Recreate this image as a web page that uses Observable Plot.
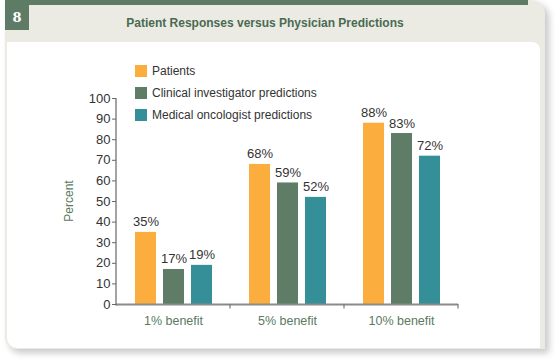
<!DOCTYPE html>
<html>
<head>
<meta charset="utf-8">
<script src="https://cdn.jsdelivr.net/npm/d3@7"></script>
<script src="https://cdn.jsdelivr.net/npm/@observablehq/plot@0.6"></script>
<style>
  html, body { margin: 0; padding: 0; background: #ffffff; }
  #wrap { position: relative; width: 560px; height: 362px; overflow: hidden; font-family: "Liberation Sans", Arial, sans-serif; }
  #card { position: absolute; left: 5px; top: 0; width: 540px; height: 349px; background: #ebebe3; border-radius: 0 14px 0 12px; box-shadow: 4px 4px 7px rgba(0,0,0,0.22); }
  #topbar { position: absolute; left: 5px; top: 0; width: 523px; height: 5px; background: #5e7b65; }
  #badge { position: absolute; left: 5px; top: 5px; width: 24px; height: 25px; background: #5e7b65; color: #fff; font: bold 13px "DejaVu Serif", "Liberation Serif", serif; text-align: center; line-height: 25px; }
  #title { position: absolute; left: 29px; width: 472px; top: 16px; text-align: center; font-weight: bold; font-size: 12px; color: #4a6a52; }
  #panel { position: absolute; left: 7px; top: 42px; width: 533px; height: 306px; background: #ffffff; border-radius: 0 8px 0 10px; }
  #chart { position: absolute; left: 0; top: 0; }
  #legend { position: absolute; left: 135px; top: 64px; font-size: 12px; color: #333; }
  .li { height: 22px; display: flex; align-items: flex-start; }
  .sw { width: 12px; height: 12px; margin-right: 5px; margin-top: 1px; }
  .lt { line-height: 14px; }
  #ylabel { position: absolute; left: 68.5px; top: 201px; transform: translate(-50%, -50%) rotate(-90deg); font-size: 12px; color: #5a7a62; white-space: nowrap; }
</style>
</head>
<body>
<div id="wrap">
  <div id="card"></div>
  <div id="topbar"></div>
  <div id="badge">8</div>
  <div id="title">Patient Responses versus Physician Predictions</div>
  <div id="panel"></div>
  <div id="chart"></div>
  <div id="ylabel">Percent</div>
  <div id="legend"></div>
</div>
<script>
const categories = ["1% benefit", "5% benefit", "10% benefit"];
const series = ["Patients", "Clinical investigator predictions", "Medical oncologist predictions"];
const patients = [35, 68, 88];
const clinical = [17, 59, 83];
const medical = [19, 52, 72];
const yTicks = [0, 10, 20, 30, 40, 50, 60, 70, 80, 90, 100];
const colors = ["#fbae3e", "#5f7c66", "#358f98"];

const seriesValues = [patients, clinical, medical];
const data = categories.flatMap((c, i) =>
  series.map((s, j) => ({category: c, series: s, value: seriesValues[j][i]}))
);

const chart = Plot.plot({
  width: 560,
  height: 362,
  marginLeft: 116,
  marginRight: 102,
  marginTop: 98,
  marginBottom: 58,
  style: {background: "transparent", fontFamily: "'Liberation Sans', Arial, sans-serif", overflow: "visible"},
  fx: {domain: categories, padding: 0, label: null, axis: null},
  x: {domain: series, paddingInner: 0.26, paddingOuter: 0.64, axis: null},
  y: {domain: [0, 100], axis: null},
  color: {domain: series, range: colors},
  marks: [
    Plot.barY(data, {fx: "category", x: "series", y: "value", fill: "series"}),
    Plot.text(data, {fx: "category", x: "series", y: "value", text: d => d.value + "%", dy: -6, lineAnchor: "bottom", fontSize: 13, fill: "#333"}),
    Plot.ruleY([0], {stroke: "#8a8a8a", strokeWidth: 2}),
    Plot.ruleY([0], {
      render(index, scales, values, dimensions) {
        const xr = scales.scales.x.range;
        const y0 = scales.y(0);
        const g = d3.create("svg:g").attr("stroke", "#777").attr("stroke-width", 1.2);
        g.append("line").attr("x1", xr[1]).attr("x2", xr[1]).attr("y1", y0).attr("y2", y0 + 4.5);
        return g.node();
      }
    }),
    Plot.frame({
      facet: "super",
      render(index, scales, values, dimensions) {
        const y = scales.y;
        const x0 = dimensions.marginLeft;
        const g = d3.create("svg:g").attr("stroke", "#666").attr("stroke-width", 1.2);
        g.append("line").attr("x1", x0).attr("x2", x0).attr("y1", y(100)).attr("y2", y(0) + 1.5);
        return g.node();
      }
    }),
    Plot.axisY({ticks: yTicks, tickSize: 4, tickPadding: 2, fontSize: 13, color: "#333", stroke: "#666", label: null, tickFormat: d => String(d)}),
    Plot.axisFx({anchor: "bottom", tickSize: 0, tickPadding: 12, fontSize: 12.5, color: "#5a7a62", label: null})
  ]
});
document.getElementById("chart").appendChild(chart);

const legend = document.getElementById("legend");
series.forEach((s, j) => {
  const row = document.createElement("div");
  row.className = "li";
  const sw = document.createElement("div");
  sw.className = "sw";
  sw.style.background = colors[j];
  const t = document.createElement("div");
  t.className = "lt";
  t.textContent = s;
  row.appendChild(sw);
  row.appendChild(t);
  legend.appendChild(row);
});
</script>
</body>
</html>
